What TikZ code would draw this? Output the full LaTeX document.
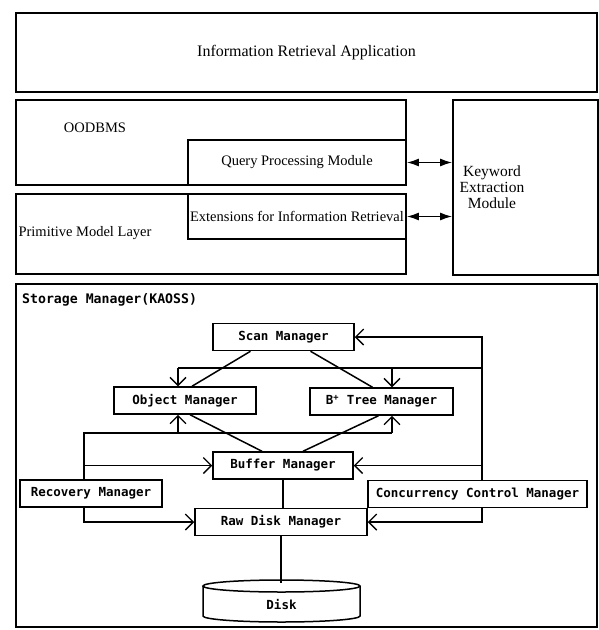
\documentclass[tikz,border=0pt]{standalone}
\usepackage{fontspec}
\setmainfont{Liberation Serif}
\newfontfamily\monofam{DejaVu Sans Mono}
\usetikzlibrary{arrows.meta}
\begin{document}
\begin{tikzpicture}[x=1pt,y=-1pt,
  box/.style={draw, line width=1.7pt, inner sep=0pt},
  layertxt/.style={font=\fontsize{14.5}{15.5}\selectfont},
  mgr/.style={draw, line width=1.5pt, inner sep=0pt, minimum height=27pt, font=\monofam\bfseries\fontsize{12.5}{14}\selectfont},
  wire/.style={line width=1.5pt},
  arr/.style={wire, -{Straight Barb[length=8pt,width=16pt,line width=1.4pt]}},
  dbl/.style={line width=1.5pt, {Latex[length=12pt,width=8pt]}-{Latex[length=12pt,width=8pt]}}
]
\useasboundingbox (0,0) rectangle (599,630);
\fill[white] (0,0) rectangle (599,630);

% upper layers
\node[box, minimum width=581pt, minimum height=79pt, font=\fontsize{16}{18}\selectfont] (ira) at (306.5,52.5) {Information Retrieval Application};
\node[box, minimum width=390pt, minimum height=85pt] (oodbms) at (211,142.5) {};
\node[layertxt] (oodbmsl) at (95,128) {OODBMS};
\node[box, layertxt, minimum width=218pt, minimum height=45pt] (qpm) at (297,162.5) {Query Processing Module};
\node[box, minimum width=390pt, minimum height=80pt] (pml) at (211,234) {};
\node[layertxt] (pmll) at (85,233) {Primitive Model Layer};
\node[box, layertxt, minimum width=218pt, minimum height=45pt] (ext) at (297,216.5) {Extensions for Information Retrieval};
\node[box, minimum width=145pt, minimum height=175pt] (kem) at (525.5,187.5) {};
\node[font=\fontsize{15.5}{16}\selectfont, align=center] (keml) at (492,187) {Keyword\\Extraction\\Module};
\draw[dbl] (qpm.east) -- (qpm.east -| kem.west);
\draw[dbl] (ext.east) -- (ext.east -| kem.west);

% storage manager
\node[box, minimum width=581pt, minimum height=343pt] (sm) at (306.5,455.5) {};
\node[anchor=west, inner sep=0pt, font=\monofam\bfseries\fontsize{13.2}{15}\selectfont] (smt) at (22,300) {Storage Manager(KAOSS)};

\node[mgr, minimum width=141pt] (scan) at (283.5,337) {Scan Manager};
\node[mgr, minimum width=142pt] (obj) at (185,400.5) {Object Manager};
\node[mgr, minimum width=143pt] (bt) at (381.5,401.5) {B\textsuperscript{+} Tree Manager};
\node[mgr, minimum width=140pt] (buf) at (283,465.5) {Buffer Manager};
\node[mgr, minimum width=142pt] (rec) at (91,493.5) {Recovery Manager};
\node[mgr, minimum width=219pt] (ccm) at (477.5,494) {Concurrency Control Manager};
\node[mgr, minimum width=172pt] (raw) at (281,522) {Raw Disk Manager};

% disk cylinder
\coordinate (diskc) at (281.5,586);
\draw[wire] (diskc) ellipse [x radius=78.5, y radius=6];
\draw[wire] (203,586) -- (203,616) arc[start angle=180, end angle=0, x radius=78.5, y radius=6] -- (360,586);
\node[font=\monofam\bfseries\fontsize{12.5}{14}\selectfont] (disk) at (281.5,604) {Disk};

% helper coordinates
\coordinate (cx) at (482,0);
\coordinate (lx) at (84,0);
\coordinate (ty) at (0,368);
\coordinate (by) at (0,433);
\coordinate (ox) at (178,0);
\coordinate (bx) at (392,0);

% diagonals
\draw[wire] ([xshift=-33pt]scan.south) -- ([xshift=7pt]obj.north);
\draw[wire] ([xshift=27pt]scan.south) -- ([xshift=-9pt]bt.north);
\draw[wire] ([xshift=5pt]obj.south) -- ([xshift=-21pt]buf.north);
\draw[wire] ([xshift=-3pt]bt.south) -- ([xshift=20pt]buf.north);

% right loop (concurrency control)
\draw[arr] (ccm.north -| cx) -- (scan.east -| cx) -- (scan.east);
\draw[wire] (cx |- ty) -- (ox |- ty);
\draw[arr] (ox |- ty) -- (ox |- obj.north);
\draw[arr] (bx |- ty) -- (bx |- bt.north);
\draw[arr] (cx |- buf.east) -- (buf.east);
\draw[arr] (ccm.south -| cx) -- (cx |- raw.east) -- (raw.east);

% left loop (recovery)
\draw[wire] (rec.north -| lx) -- (lx |- by) -- (bx |- by);
\draw[arr] (ox |- by) -- (ox |- obj.south);
\draw[arr] (bx |- by) -- (bx |- bt.south);
\draw[arr] (lx |- buf.west) -- (buf.west);
\draw[arr] (rec.south -| lx) -- (lx |- raw.west) -- (raw.west);

% vertical links
\draw[wire] (buf.south) -- (buf.south |- raw.north);
\draw[wire] (raw.south) -- ([yshift=3pt]raw.south |- diskc);
\end{tikzpicture}
\end{document}
